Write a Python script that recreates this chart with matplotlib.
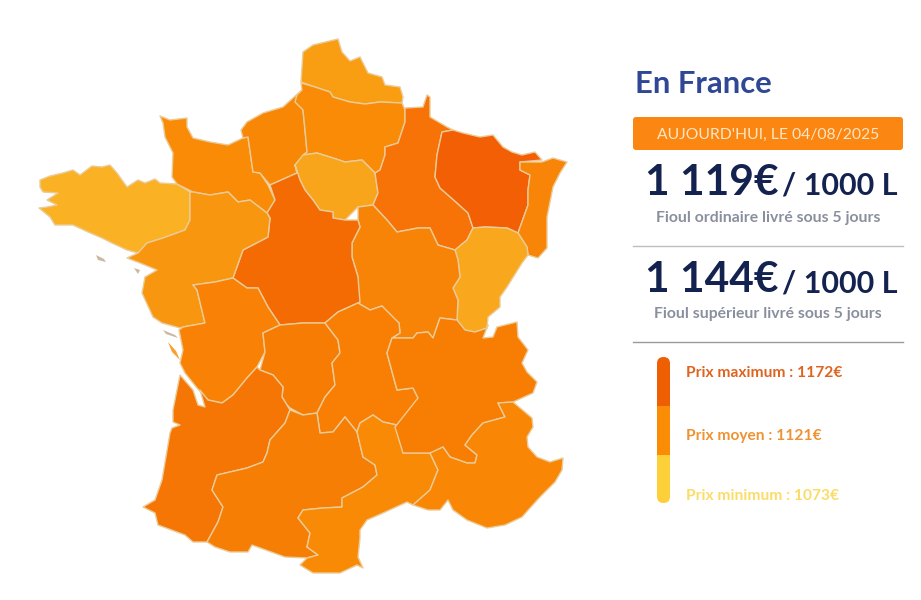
import matplotlib
matplotlib.use("Agg")
import matplotlib.pyplot as plt
from matplotlib.patches import FancyBboxPatch, Rectangle

plt.rcParams['font.family'] = ['Lato', 'DejaVu Sans']

# Region outlines (x, y in picture pixels) and their fill
regions = {
 "Bretagne": ("#FBB124", [(40,180),(50,176),(63,173),(73,170),(80,175),(92,166),(102,167),(110,165),(117,173),(127,187),(138,180),(145,183),(155,179),(160,183),(177,184),(190,192),(190,220),(185,230),(163,238),(147,243),(138,253),(127,250),(112,243),(102,238),(88,232),(73,225),(55,225),(50,217),(39,208),(47,207),(57,205),(47,200),(58,193),(43,192),(40,187)]),
 "Basse-Normandie": ("#F98B06", [(160,116),(170,120),(187,118),(187,127),(193,138),(210,142),(228,145),(243,138),(248,137),(253,172),(260,173),(268,185),(275,200),(267,213),(250,200),(238,202),(228,192),(210,195),(193,192),(177,184),(172,177),(173,153),(165,137),(163,123)]),
 "Haute-Normandie": ("#F98706", [(243,138),(241,130),(247,122),(263,113),(283,107),(293,98),(302,90),(303,110),(305,130),(307,152),(295,165),(297,173),(270,185),(260,173),(253,172),(248,137)]),
 "Nord-Pas-de-Calais": ("#F99E12", [(303,52),(313,45),(338,39),(342,52),(350,61),(360,57),(368,73),(382,77),(385,85),(400,87),(403,97),(402,103),(380,102),(365,104),(350,102),(333,97),(330,92),(315,87),(301,82),(302,67)]),
 "Picardie": ("#F98B06", [(301,83),(315,87),(330,92),(333,97),(350,102),(365,104),(380,102),(402,103),(405,110),(405,122),(398,143),(385,147),(385,155),(380,170),(375,173),(367,165),(362,160),(345,162),(333,158),(317,153),(303,155),(307,152),(305,130),(303,110),(295,102),(297,95),(302,90)]),
 "Ile-de-France": ("#F9A51C", [(303,155),(317,153),(333,158),(345,162),(362,160),(367,165),(375,173),(378,193),(373,205),(358,207),(345,220),(333,218),(333,212),(320,210),(313,200),(305,190),(300,180),(295,165)]),
 "Champagne-Ardenne": ("#F77207", [(405,108),(423,107),(427,95),(430,97),(430,117),(447,127),(453,130),(442,132),(437,155),(435,177),(440,188),(457,203),(468,213),(473,228),(467,240),(455,250),(438,245),(430,228),(418,228),(397,232),(387,220),(373,205),(378,193),(375,173),(380,170),(385,155),(385,147),(398,143),(405,122)]),
 "Lorraine": ("#F25F05", [(442,132),(453,130),(463,133),(480,137),(493,135),(503,147),(512,152),(522,155),(535,152),(542,160),(520,162),(520,170),(530,175),(528,190),(528,205),(518,233),(507,228),(485,227),(473,228),(468,213),(457,203),(440,188),(435,177),(437,155)]),
 "Alsace": ("#F88408", [(520,162),(542,162),(553,158),(567,162),(560,173),(553,187),(547,217),(547,248),(538,258),(528,255),(527,247),(518,233),(528,205),(528,190),(530,175),(520,170)]),
 "Franche-Comte": ("#F9A71C", [(473,228),(485,227),(507,228),(518,233),(527,247),(528,255),(522,263),(507,287),(500,297),(500,307),(488,317),(487,328),(475,332),(465,330),(457,320),(458,300),(453,288),(460,277),(458,260),(455,250),(467,240)]),
 "Bourgogne": ("#F88407", [(358,207),(373,205),(387,220),(397,232),(418,228),(430,228),(438,245),(455,250),(458,260),(460,277),(453,288),(458,300),(457,320),(440,318),(433,338),(428,332),(417,333),(413,338),(392,338),(400,333),(399,323),(390,317),(382,306),(370,310),(358,303),(358,277),(352,257),(352,243),(360,227),(358,220)]),
 "Centre": ("#F46B04", [(297,173),(295,165),(300,180),(305,190),(313,200),(320,210),(333,212),(333,218),(345,220),(358,220),(360,227),(352,243),(352,257),(358,277),(360,302),(338,312),(325,323),(303,323),(280,325),(272,313),(268,307),(258,288),(247,288),(233,278),(243,250),(268,237),(270,218),(267,213),(275,200),(270,185)]),
 "Pays-de-la-Loire": ("#F99610", [(190,192),(193,192),(210,195),(228,192),(238,202),(250,200),(267,213),(270,218),(268,237),(243,250),(233,278),(215,282),(193,285),(197,290),(205,323),(183,327),(180,328),(162,323),(153,317),(142,293),(145,277),(157,270),(140,263),(127,258),(138,253),(147,243),(163,238),(185,230),(190,220)]),
 "Poitou-Charentes": ("#F98206", [(193,285),(215,282),(233,278),(247,288),(258,288),(268,307),(280,325),(263,333),(265,352),(257,367),(247,378),(233,395),(222,403),(208,400),(197,388),(185,373),(180,363),(183,350),(179,330),(183,327),(205,323),(197,290)]),
 "Limousin": ("#F67C04", [(280,325),(303,323),(325,323),(338,340),(340,353),(332,363),(335,385),(325,397),(317,413),(303,415),(290,408),(287,405),(282,397),(283,387),(273,375),(260,370),(265,352),(263,333)]),
 "Auvergne": ("#F87F04", [(325,323),(338,312),(358,303),(370,310),(382,306),(399,323),(400,333),(392,338),(387,353),(397,390),(413,388),(418,398),(415,408),(397,425),(383,422),(373,415),(360,423),(357,432),(345,417),(333,432),(320,433),(317,413),(325,397),(335,385),(332,363),(340,353),(338,340)]),
 "Aquitaine": ("#F57604", [(180,375),(193,390),(198,405),(205,407),(200,390),(208,400),(222,403),(233,395),(247,378),(257,367),(260,370),(273,375),(283,387),(282,397),(287,405),(290,410),(285,423),(270,440),(267,453),(263,462),(247,468),(217,475),(212,490),(223,507),(218,522),(207,542),(193,542),(185,535),(158,525),(155,513),(143,507),(155,500),(162,480),(170,433),(172,428),(180,425),(173,422),(173,410)]),
 "Midi-Pyrenees": ("#F67E05", [(290,410),(303,415),(317,413),(320,433),(333,432),(345,417),(357,432),(363,457),(375,465),(377,475),(363,487),(342,498),(342,507),(323,508),(303,510),(298,518),(310,533),(307,547),(318,555),(307,558),(285,557),(252,545),(248,552),(230,552),(215,547),(207,542),(218,522),(223,507),(212,490),(217,475),(247,468),(263,462),(267,453),(270,440),(285,423)]),
 "Languedoc": ("#F98A06", [(357,432),(360,423),(373,415),(383,422),(397,425),(403,453),(430,453),(438,470),(430,490),(413,505),(407,502),(383,513),(367,520),(360,530),(360,538),(358,557),(363,568),(357,565),(340,573),(327,573),(313,573),(300,565),(307,558),(318,555),(307,547),(310,533),(298,518),(303,510),(323,508),(342,507),(342,498),(363,487),(377,475),(375,465),(363,457)]),
 "Rhone-Alpes": ("#F87E03", [(440,318),(457,320),(465,330),(475,332),(487,328),(488,325),(483,338),(493,337),(497,327),(517,322),(518,337),(528,350),(522,363),(527,372),(537,382),(533,393),(513,402),(498,403),(505,417),(483,423),(472,435),(465,445),(477,455),(475,463),(467,463),(450,457),(443,447),(432,453),(403,453),(395,427),(418,398),(413,388),(397,390),(387,353),(392,338),(413,338),(417,333),(428,332),(433,338)]),
 "PACA": ("#F98605", [(430,453),(443,447),(450,457),(467,463),(475,463),(477,455),(465,445),(472,435),(483,423),(505,417),(498,403),(513,402),(532,418),(533,427),(527,437),(528,447),(537,457),(550,462),(563,458),(562,470),(555,482),(540,497),(530,508),(522,517),(505,525),(487,528),(467,520),(453,510),(448,500),(440,510),(428,510),(413,505),(430,490),(438,470)]),
}
islands = [
 ("#C9B9A0", [(96,255),(104,259),(106,262),(98,260)]),
 ("#C9B9A0", [(134,268),(140,270),(138,274)]),
 ("#F9A030", [(168,342),(176,351),(180,360),(172,352)]),
 ("#C9B9A0", [(163,330),(175,335),(178,338),(166,334)]),
]

title = "En France"
date_label = "AUJOURD'HUI, LE 04/08/2025"
prices = ["1 119€", "1 144€"]
per_unit = "/ 1000 L"
price_notes = ["Fioul ordinaire livré sous 5 jours", "Fioul supérieur livré sous 5 jours"]
legend_labels = ["Prix maximum : 1172€", "Prix moyen : 1121€", "Prix minimum : 1073€"]
legend_text_colors = ["#DE6420", "#EE9333", "#FBDC66"]
legend_bar_colors = ["#EE5E03", "#FB8C06", "#FDCF38"]

fig = plt.figure(figsize=(9.21, 6.0), dpi=100)
ax = fig.add_axes([0, 0, 1, 1])
ax.set_xlim(0, 921)
ax.set_ylim(600, 0)
ax.axis("off")

for name, (color, pts) in regions.items():
    xs, ys = zip(*pts)
    ax.fill(xs, ys, facecolor=color, edgecolor="#EBCB97", linewidth=1.0, joinstyle="round", zorder=2)
for color, pts in islands:
    xs, ys = zip(*pts)
    ax.fill(xs, ys, facecolor=color, edgecolor="none", zorder=2)

navy = "#14224F"
grey = "#8A8F9E"
ax.text(635, 93, title, fontsize=22.3, fontweight="bold", color="#2F4795", va="baseline", ha="left")
ax.add_patch(FancyBboxPatch((635, 119), 266, 29, boxstyle="round,pad=2,rounding_size=3", facecolor="#FC8612", edgecolor="none"))
ax.text(768, 139, date_label, fontsize=11.3, color="#FDE6C5", va="baseline", ha="center")

for y, yn, p, note in zip((195, 292), (222, 318), prices, price_notes):
    ax.text(645, y, p, fontsize=30.6, fontweight="bold", color=navy, va="baseline", ha="left")
    ax.text(782, y, per_unit, fontsize=22, fontweight="bold", color=navy, va="baseline", ha="left")
    ax.text(768, yn, note, fontsize=11.3, fontweight="bold", color=grey, va="baseline", ha="center")

ax.plot([633, 903], [246, 246], color="#BDBDBD", lw=1)
ax.plot([633, 903], [342, 342], color="#9A9A9A", lw=1)

clip = FancyBboxPatch((657, 357), 13, 146, boxstyle="round,pad=0,rounding_size=6.5", facecolor="none", edgecolor="none")
ax.add_patch(clip)
for (y0, y1), c in zip(((357, 405.5), (405.5, 454.5), (454.5, 503)), legend_bar_colors):
    r = Rectangle((657, y0), 13, y1 - y0, facecolor=c, edgecolor="none")
    ax.add_patch(r)
    r.set_clip_path(clip)
for y, lab, c in zip((377, 440, 500), legend_labels, legend_text_colors):
    ax.text(686, y, lab, fontsize=11.2, fontweight="bold", color=c, va="baseline", ha="left")

fig.savefig("out.png", dpi=100)
